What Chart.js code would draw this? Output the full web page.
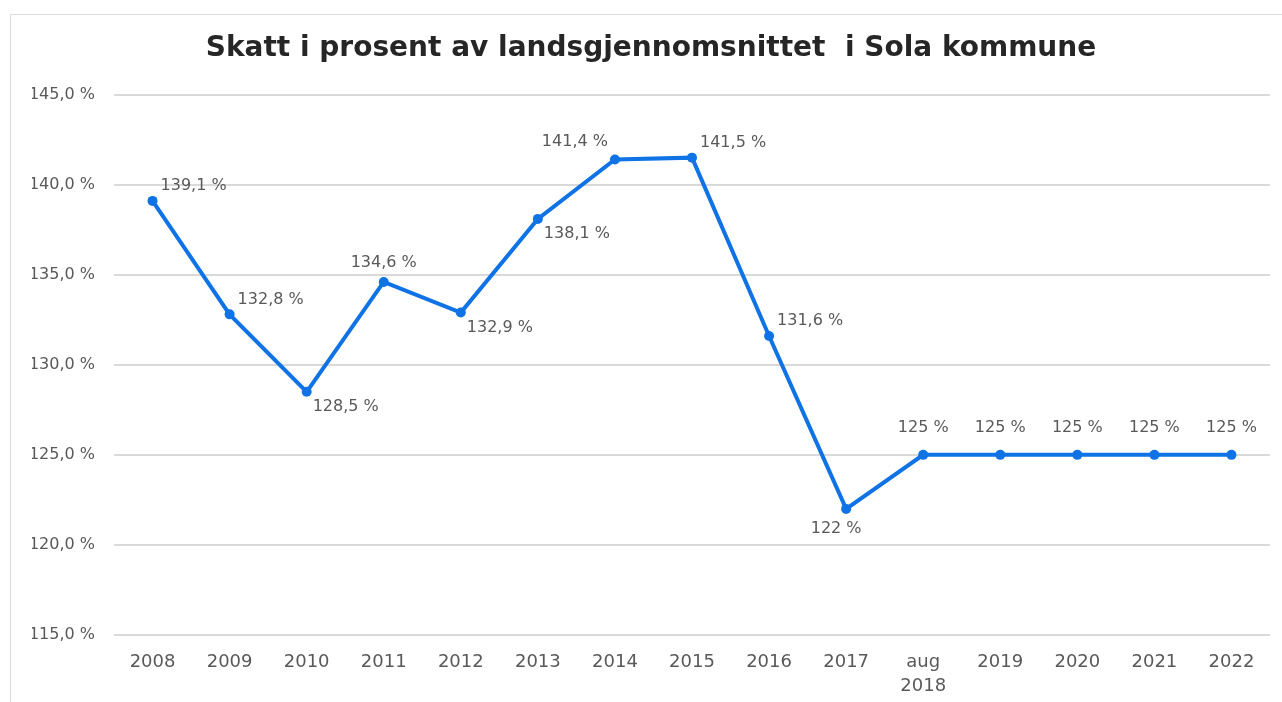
<!DOCTYPE html>
<html>
<head>
<meta charset="utf-8">
<script src="https://cdn.jsdelivr.net/npm/chart.js@4"></script>
<style>
  html, body { margin: 0; padding: 0; background: #fff; }
  #wrap { position: relative; width: 1282px; height: 702px; overflow: hidden; }
  #frame { position: absolute; left: 10px; top: 14px; width: 1300px; height: 720px; border: 1.5px solid #dcdcdc; }
  #c { position: absolute; left: 0; top: 0; }
</style>
</head>
<body>
<div id="wrap">
  <div id="frame"></div>
  <canvas id="c" width="1282" height="702"></canvas>
</div>
<script>
const years = ['2008', '2009', '2010', '2011', '2012', '2013', '2014', '2015', '2016', '2017',
  ['aug', '2018'], '2019', '2020', '2021', '2022'];
const skatt = [139.1, 132.8, 128.5, 134.6, 132.9, 138.1, 141.4, 141.5, 131.6, 122, 125, 125, 125, 125, 125];
// where each value label goes relative to its point
const labelPos = ['ne', 'ne', 'se', 'n', 'se', 'se', 'nw', 'ne', 'ne', 's', 'n', 'n', 'n', 'n', 'n'];
const yTicks = [115, 120, 125, 130, 135, 140, 145];

const FONT = "'DejaVu Sans', sans-serif";
const blue = '#0f73e6';

function pct(v) {
  return (Number.isInteger(v) ? String(v) : v.toFixed(1).replace('.', ',')) + ' %';
}

const offsets = {
  ne: [8, -15, 'left'],
  se: [6, 15, 'left'],
  n: [0, -27, 'center'],
  s: [-10, 20, 'center'],
  nw: [-7, -18, 'right']
};

const valueLabels = {
  id: 'valueLabels',
  afterDatasetsDraw(chart) {
    let ctx = chart.ctx;
    let meta = chart.getDatasetMeta(0);
    ctx.save();
    ctx.font = '16px ' + FONT;
    ctx.fillStyle = '#595959';
    ctx.textBaseline = 'middle';
    meta.data.forEach(function(pt, i) {
      let o = offsets[labelPos[i]];
      if (i == 3) o = [0, -19, 'center'];
      ctx.textAlign = o[2];
      ctx.fillText(pct(skatt[i]), pt.x + o[0], pt.y + o[1]);
    });
    ctx.restore();
  }
};

new Chart(document.getElementById('c'), {
  type: 'line',
  data: {
    labels: years,
    datasets: [{
      label: 'Skatt',
      data: skatt,
      borderColor: blue,
      backgroundColor: blue,
      borderWidth: 4,
      pointRadius: 5,
      pointBackgroundColor: blue,
      pointBorderWidth: 0,
      tension: 0
    }]
  },
  options: {
    responsive: false,
    animation: false,
    layout: { padding: { left: 32, right: 12, top: 0, bottom: 0 } },
    scales: {
      x: {
        offset: true,
        grid: { display: false, drawTicks: false },
        border: { display: false },
        ticks: { color: '#595959', font: { family: FONT, size: 18, lineHeight: 1.3 }, padding: 16, maxRotation: 0, autoSkip: false },
        afterFit: function(s) { s.height = 67; }
      },
      y: {
        min: 115,
        max: 145,
        afterBuildTicks: function(s) { s.ticks = yTicks.map(v => ({ value: v })); },
        grid: { color: '#d9d9d9', lineWidth: 2, drawTicks: false },
        border: { display: false },
        ticks: {
          color: '#595959',
          font: { family: FONT, size: 16 },
          padding: 19,
          callback: v => v.toFixed(1).replace('.', ',') + ' %'
        },
        afterFit: function(s) { s.width = 82; }
      }
    },
    plugins: {
      legend: { display: false },
      tooltip: { enabled: false },
      title: {
        display: true,
        text: 'Skatt i prosent av landsgjennomsnittet  i Sola kommune',
        color: '#262626',
        font: { family: FONT, size: 28, weight: 'bold' },
        padding: { top: 32, bottom: 29 }
      }
    }
  },
  plugins: [valueLabels]
});
</script>
</body>
</html>
